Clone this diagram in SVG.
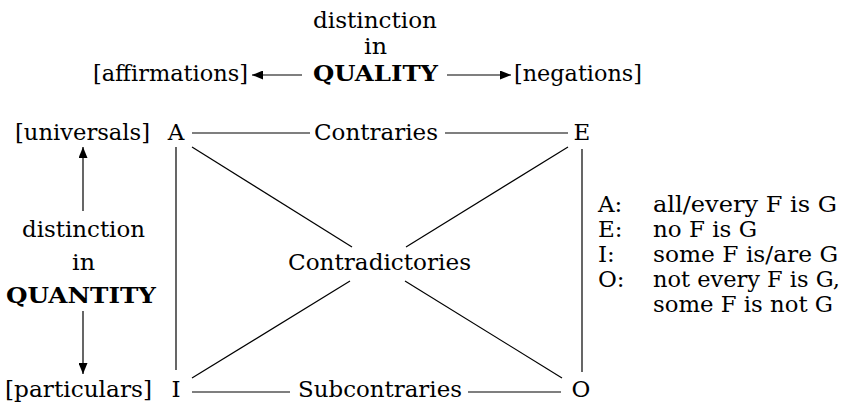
<svg xmlns="http://www.w3.org/2000/svg" width="847" height="403" viewBox="0 0 847 403">
<defs>
<style>
text{font-family:"DejaVu Serif","Liberation Serif",serif;font-size:23px;fill:#000}
.b{font-weight:bold}
.ln{stroke:#000;stroke-width:1.2;fill:none}
</style>
<marker id="ah" viewBox="0 0 11 9" refX="11" refY="4.5" markerWidth="11" markerHeight="9" markerUnits="userSpaceOnUse" orient="auto">
<path d="M0,0 L11,4.5 L0,9 Z" fill="#000"/>
</marker>
</defs>
<rect width="847" height="403" fill="#fff"/>
<g id="quality">
<text x="313" y="28" textLength="124" lengthAdjust="spacingAndGlyphs">distinction</text>
<text x="364" y="54" textLength="23" lengthAdjust="spacingAndGlyphs">in</text>
<text class="b" x="313" y="81" textLength="125" lengthAdjust="spacingAndGlyphs">QUALITY</text>
<text x="93" y="81" textLength="155" lengthAdjust="spacingAndGlyphs">[affirmations]</text>
<text x="514" y="81" textLength="128" lengthAdjust="spacingAndGlyphs">[negations]</text>
</g>
<g id="quantity">
<text x="15" y="140" textLength="135" lengthAdjust="spacingAndGlyphs">[universals]</text>
<text x="22" y="237" textLength="123" lengthAdjust="spacingAndGlyphs">distinction</text>
<text x="72" y="270" textLength="23" lengthAdjust="spacingAndGlyphs">in</text>
<text class="b" x="6" y="303" textLength="150" lengthAdjust="spacingAndGlyphs">QUANTITY</text>
<text x="5" y="397" textLength="147" lengthAdjust="spacingAndGlyphs">[particulars]</text>
</g>
<g id="node-A"><text x="176" y="140" text-anchor="middle">A</text></g>
<g id="node-E"><text x="582" y="140" text-anchor="middle">E</text></g>
<g id="node-I"><text x="176" y="397" text-anchor="middle">I</text></g>
<g id="node-O"><text x="581" y="397" text-anchor="middle">O</text></g>
<g id="connectors">
<line class="ln" x1="302" y1="75" x2="252" y2="75" marker-end="url(#ah)"/>
<line class="ln" x1="447" y1="75" x2="511" y2="75" marker-end="url(#ah)"/>
<line class="ln" x1="83" y1="211" x2="83" y2="147" marker-end="url(#ah)"/>
<line class="ln" x1="83" y1="311" x2="83" y2="374" marker-end="url(#ah)"/>
<line class="ln" x1="192" y1="133" x2="310" y2="133"/>
<line class="ln" x1="445" y1="133" x2="568" y2="133"/>
<line class="ln" x1="192" y1="392" x2="290" y2="392"/>
<line class="ln" x1="468" y1="392" x2="561" y2="392"/>
<line class="ln" x1="176" y1="147" x2="176" y2="370"/>
<line class="ln" x1="582" y1="149" x2="582" y2="372"/>
<line class="ln" x1="192" y1="147" x2="352" y2="247"/>
<line class="ln" x1="405" y1="281" x2="562" y2="378"/>
<line class="ln" x1="568" y1="147" x2="406" y2="247"/>
<line class="ln" x1="350" y1="281" x2="192" y2="378"/>
<text x="314" y="140" textLength="124" lengthAdjust="spacingAndGlyphs">Contraries</text>
<text x="288" y="270" textLength="183" lengthAdjust="spacingAndGlyphs">Contradictories</text>
<text x="298" y="397" textLength="164" lengthAdjust="spacingAndGlyphs">Subcontraries</text>
</g>
<g id="legend">
<text x="598" y="212">A:</text>
<text x="653" y="212" textLength="184" lengthAdjust="spacingAndGlyphs">all/every F is G</text>
<text x="598" y="237">E:</text>
<text x="653" y="237" textLength="104" lengthAdjust="spacingAndGlyphs">no F is G</text>
<text x="598" y="262">I:</text>
<text x="653" y="262" textLength="185" lengthAdjust="spacingAndGlyphs">some F is/are G</text>
<text x="598" y="287">O:</text>
<text x="653" y="287" textLength="187" lengthAdjust="spacingAndGlyphs">not every F is G,</text>
<text x="653" y="312" textLength="180" lengthAdjust="spacingAndGlyphs">some F is not G</text>
</g>
</svg>
